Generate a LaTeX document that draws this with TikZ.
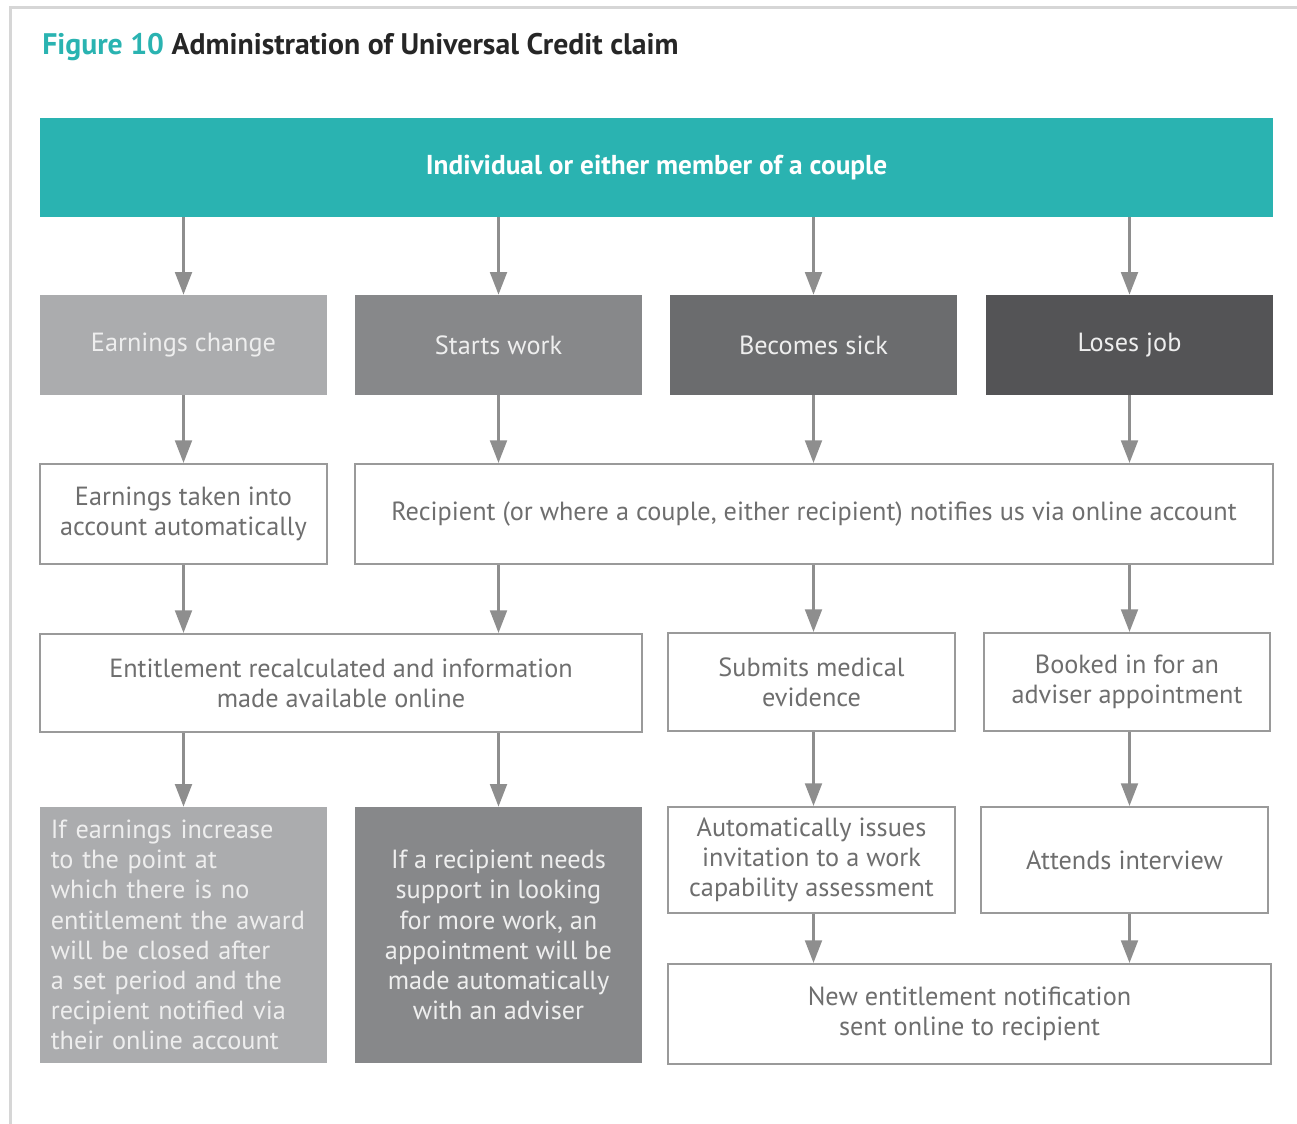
\documentclass[tikz,border=0pt]{standalone}
\usepackage{fontspec}
\setmainfont{PT Sans}
\usetikzlibrary{arrows.meta}

\definecolor{ucteal}{HTML}{2AB3B1}
\definecolor{ucgreyA}{HTML}{ABACAE}
\definecolor{ucgreyB}{HTML}{87888A}
\definecolor{ucgreyC}{HTML}{6B6C6E}
\definecolor{ucgreyD}{HTML}{545456}
\definecolor{ucline}{HTML}{9A9A9A}
\definecolor{ucarrow}{HTML}{8E8E8E}
\definecolor{uctext}{HTML}{6E6E6E}
\definecolor{ucpale}{HTML}{EEEEEE}
\definecolor{ucframe}{HTML}{D6D6D6}

\tikzset{
  boxtxt/.style={font=\fontsize{19.7}{22.6}\selectfont, align=center, inner sep=0pt},
  greybox/.style={boxtxt, fill=#1, text=ucpale, minimum width=215.25pt, minimum height=75pt},
  whitebox/.style={boxtxt, draw=ucline, line width=1.5pt, fill=white, text=uctext, minimum height=75pt},
  flowarrow/.style={draw=ucarrow, line width=2.25pt, -{Triangle[length=17pt,width=12.5pt]}}
}

\begin{document}
\begin{tikzpicture}[x=0.75pt,y=0.75pt,yscale=-1,xscale=1]
\useasboundingbox (0,0) rectangle (1297,1124);

%Frame
\draw [ucframe, line width=2.25pt] (10,1124) -- (10,8) -- (1297,8) ;

% Title
\node (title) [anchor=west, inner sep=0pt, font=\fontsize{22.3}{26}\selectfont\bfseries] at (42,47)
  {\textcolor{ucteal}{Figure 10} \textcolor{black!85}{Administration of Universal Credit claim}};

% Top box
\node (top) [fill=ucteal, text=white, inner sep=0pt, minimum width=924.75pt, minimum height=74.25pt, font=\fontsize{20.5}{24}\selectfont\bfseries] at (656.5,167.5)
  {Individual or either member of a couple};

% Events
\node (ec) [greybox=ucgreyA] at (183.5,345) {Earnings change};
\node (sw) [greybox=ucgreyB] at (498.5,345) {Starts work};
\node (bs) [greybox=ucgreyC] at (813.5,345) {Becomes sick};
\node (lj) [greybox=ucgreyD] at (1129.5,345) {Loses job};

% Notification
\node (eta) [whitebox, minimum width=215.25pt] at (183.5,514) {Earnings taken into\\account automatically};
\node (rec) [whitebox, minimum width=688.5pt] at (814,514) {Recipient (or where a couple, either recipient) notifies us via online account};

% Next step
\node (erc) [whitebox, minimum width=451.5pt, minimum height=73.5pt] at (341,683) {Entitlement recalculated and information\\made available online};
\node (smd) [whitebox, minimum width=215.25pt, minimum height=73.5pt] at (811.5,682) {Submits medical\\evidence};
\node (bia) [whitebox, minimum width=214.5pt, minimum height=73.5pt] at (1127,682) {Booked in for an\\adviser appointment};

% Outcomes
\node (inc) [greybox=ucgreyA, minimum height=192pt, align=left, text width=199pt] at (183.5,935)
  {If earnings increase\\to the point at\\which there is no\\entitlement the award\\will be closed after\\a set period and the\\recipient notified via\\their online account};
\node (rsp) [greybox=ucgreyB, minimum height=192pt] at (498.5,935)
  {If a recipient needs\\support in looking\\for more work, an\\appointment will be\\made automatically\\with an adviser};
\node (wca) [whitebox, minimum width=215.25pt, minimum height=79.5pt] at (811.5,860) {Automatically issues\\invitation to a work\\capability assessment};
\node (att) [whitebox, minimum width=215.25pt, minimum height=79.5pt] at (1124.5,860) {Attends interview};
\node (nen) [whitebox, minimum width=452.25pt] at (969.5,1014) {New entitlement notification\\sent online to recipient};

%Arrows
\foreach \col in {ec,sw,bs,lj}
  \draw [flowarrow] (top.south -| \col.north) -- (\col.north) ;
\draw [flowarrow] (ec.south) -- (eta.north) ;
\foreach \col in {sw,bs,lj}
  \draw [flowarrow] (\col.south) -- (\col.south |- rec.north) ;
\draw [flowarrow] (eta.south) -- (eta.south |- erc.north) ;
\draw [flowarrow] (rec.south -| sw.south) -- (sw.south |- erc.north) ;
\draw [flowarrow] (rec.south -| bs.south) -- (bs.south |- smd.north) ;
\draw [flowarrow] (rec.south -| lj.south) -- (lj.south |- bia.north) ;
\draw [flowarrow] (erc.south -| ec.south) -- (inc.north) ;
\draw [flowarrow] (erc.south -| sw.south) -- (rsp.north) ;
\draw [flowarrow] (smd.south -| bs.south) -- (bs.south |- wca.north) ;
\draw [flowarrow] (bia.south -| lj.south) -- (lj.south |- att.north) ;
\draw [flowarrow] (wca.south -| bs.south) -- (bs.south |- nen.north) ;
\draw [flowarrow] (att.south -| lj.south) -- (lj.south |- nen.north) ;

\end{tikzpicture}
\end{document}
